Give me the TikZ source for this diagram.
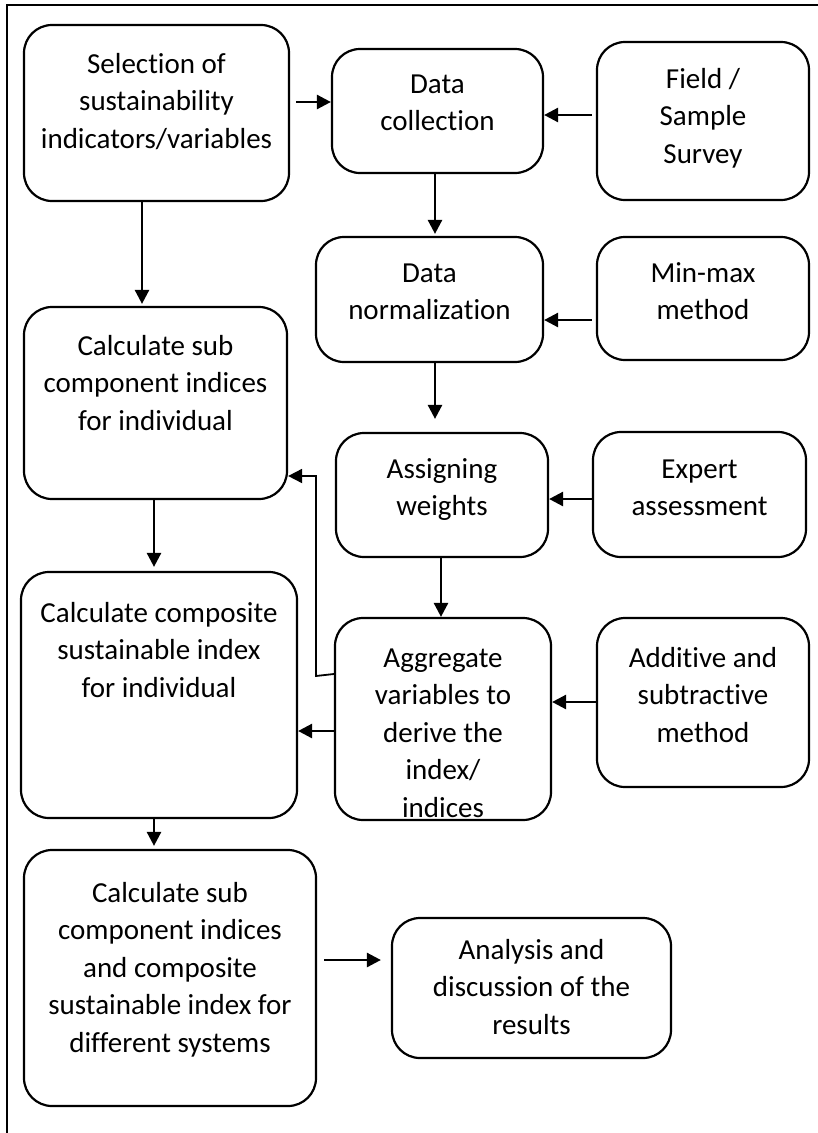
\documentclass[tikz,border=0pt]{standalone}
\usepackage{fontspec}
\setmainfont{Carlito}[RawFeature={-liga;-clig;-calt;-dlig}]
\usetikzlibrary{arrows.meta}
\tikzset{
 box/.style={draw, line width=2.2pt, rounded corners=28pt, inner sep=0pt},
 arr/.style={line width=2.6pt, -{Triangle[length=14pt,width=14pt]}},
 thinarr/.style={line width=1.8pt, -{Triangle[length=14pt,width=14pt]}},
 frame/.style={line width=2.4pt}
}
\newcommand{\boxtxt}[4]{\begin{minipage}[c][#2pt][t]{#1pt}\centering\fontsize{29pt}{37.5pt}\selectfont\rule{0pt}{#3pt}#4\end{minipage}}
\begin{document}
\begin{tikzpicture}[x=1pt,y=-1pt]
\useasboundingbox (0,0) rectangle (818,1133);
\draw[frame] (7,1133) -- (7,5) -- (818,5);

\node[box] (A) at (156.5,113) {\boxtxt{265}{176}{48}{Selection of\\sustainability\\indicators/variables}};
\node[box] (B) at (437.5,111) {\boxtxt{211}{124}{44}{Data\\collection}};
\node[box] (C) at (703,121) {\boxtxt{212}{158}{46}{Field /\\Sample\\Survey}};
\node[box] (D) at (429.5,299.5) {\boxtxt{227}{125}{45}{Data\\normalization}};
\node[box] (E) at (703,298.5) {\boxtxt{212}{123}{45}{Min-max\\method}};
\node[box] (F) at (442,495) {\boxtxt{212}{124}{45}{Assigning\\weights}};
\node[box] (G) at (699.5,494.5) {\boxtxt{213}{125}{46}{Expert\\assessment}};
\node[box] (H) at (443,719) {\boxtxt{216}{202}{49}{Aggregate\\variables to\\derive the\\index/\\indices}};
\node[box] (I) at (703,702.5) {\boxtxt{212}{169}{49}{Additive and\\subtractive\\method}};
\node[box] (J) at (155.5,403) {\boxtxt{263}{192}{48}{Calculate sub\\component indices\\for individual}};
\node[box] (K) at (159,695) {\boxtxt{276}{246}{50}{Calculate composite\\sustainable index\\for individual}};
\node[box] (L) at (170,978) {\boxtxt{292}{256}{52}{Calculate sub\\component indices\\and composite\\sustainable index for\\different systems}};
\node[box] (M) at (531.5,988) {\boxtxt{279}{140}{41}{Analysis and\\discussion of the\\results}};

\draw[arr, shorten <=6pt] (A.east |- 0,102) -- (B.west |- 0,102);
\draw[arr, shorten <=4pt] (C.west |- 0,115) -- (B.east |- 0,115);
\draw[arr, shorten <=4pt] (E.west |- 0,320) -- (D.east |- 0,320);
\draw[arr] (G.west |- 0,499) -- (F.east |- 0,499);
\draw[arr] (I.west |- 0,702) -- (H.east |- 0,702);
\draw[arr] (H.west |- 0,731) -- (K.east |- 0,731);
\draw[arr, shorten <=7pt, shorten >=10pt] (L.east |- 0,960) -- (M.west |- 0,960);

\draw[arr, shorten >=2pt] (142,0 |- A.south) -- (142,0 |- J.north);
\draw[arr, shorten >=2pt] (435,0 |- B.south) -- (435,0 |- D.north);
\draw[arr, shorten >=13pt] (435,0 |- D.south) -- (435,0 |- F.north);
\draw[arr] (441,0 |- F.south) -- (441,0 |- H.north);
\draw[arr, shorten >=4pt] (154,0 |- J.south) -- (154,0 |- K.north);
\draw[arr, shorten >=3pt] (154,0 |- K.south) -- (154,0 |- L.north);

\coordinate (fb1) at (316,676);
\coordinate (fb2) at (316,476);
\draw[thinarr] (H.west |- 0,674) -- (fb1) -- (fb2) -- (J.east |- 0,476);
\end{tikzpicture}
\end{document}
